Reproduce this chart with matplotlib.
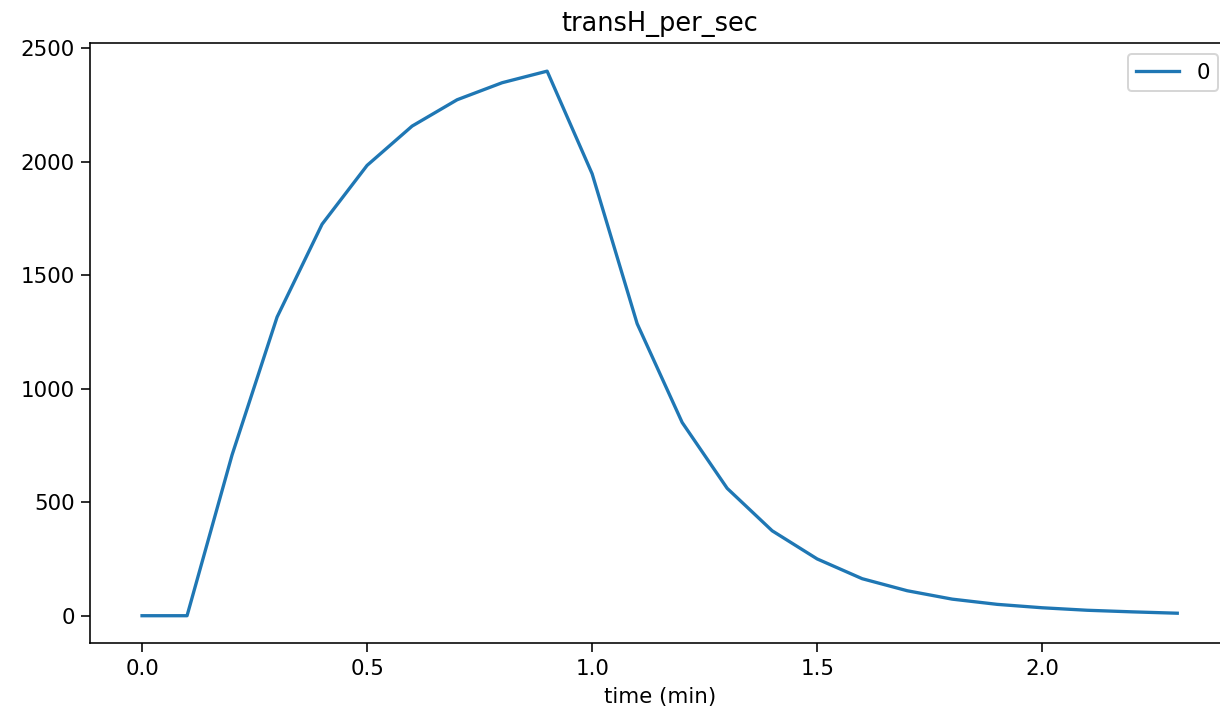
import numpy as np
import matplotlib
matplotlib.use("Agg")
import matplotlib.pyplot as plt


time_min = [0.0, 0.1, 0.2, 0.3, 0.4, 0.5, 0.6, 0.7, 0.8, 0.9, 1.0, 1.1,
            1.2, 1.3, 1.4, 1.5, 1.6, 1.7, 1.8, 1.9, 2.0, 2.1, 2.2, 2.3]
transH_per_sec = [0, 0, 708, 1315, 1724, 1983, 2156, 2272, 2347, 2398, 1946, 1286,
                  851, 561, 374, 250, 163, 110, 73, 50, 35, 24, 17, 11]
series_name = "0"

plt.rcParams["font.size"] = 10.7
plt.rcParams["xtick.major.size"] = 4.3
plt.rcParams["ytick.major.size"] = 4.3

fig = plt.figure(figsize=(1220 / 144, 718 / 144), dpi=144)
# axes runs a little past the right edge, like the cropped original
ax = fig.add_axes([0.074, 0.1045, 0.9334, 0.835])
ax.plot(time_min, transH_per_sec, color="#1f77b4", linewidth=1.65, label=series_name)
ax.set_title("transH_per_sec")
ax.set_xlabel("time (min)")
ax.set_xlim(-0.115, 2.415)
ax.set_ylim(-120, 2520)
ax.legend(loc="upper right")

fig.savefig("out.png", dpi=144)
